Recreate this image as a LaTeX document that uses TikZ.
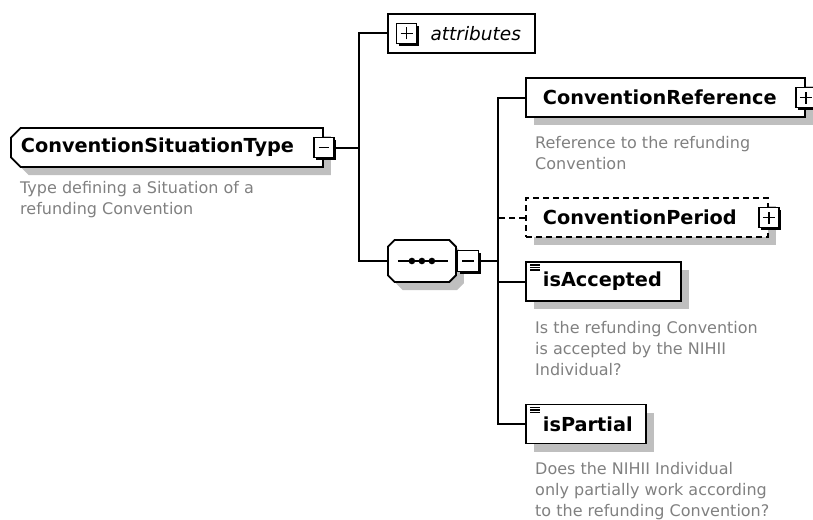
\documentclass[tikz,border=0pt]{standalone}
\usepackage{fontspec}
\setmainfont{DejaVu Sans}
\usetikzlibrary{shapes.misc}
\usetikzlibrary{shadows}
\tikzset{
  grey shadow/.style={drop shadow={shadow xshift=8pt,shadow yshift=-8pt,fill=black!25,opacity=1}},
  type node/.style={chamfered rectangle,chamfered rectangle corners={north west,south west},
    chamfered rectangle xsep=6pt,draw,fill=white,line width=1.8pt,anchor=west,align=left,
    minimum height=39pt,inner xsep=4pt,font=\fontsize{19.3}{23}\selectfont\bfseries,grey shadow},
  elem node/.style={rectangle,draw,fill=white,line width=1.8pt,anchor=west,align=left,
    minimum height=39pt,inner xsep=17pt,font=\fontsize{19.3}{23}\selectfont\bfseries,grey shadow},
  seq node/.style={chamfered rectangle,chamfered rectangle xsep=9pt,draw,fill=white,
    line width=1.8pt,anchor=west,minimum width=68pt,minimum height=42pt,grey shadow},
  pm box/.style={rectangle,draw,fill=white,line width=1.6pt,minimum size=20pt,inner sep=0pt,
    drop shadow={shadow xshift=2.2pt,shadow yshift=-2.2pt,fill=black,opacity=1}},
  desc/.style={anchor=north west,inner sep=0pt,align=left,text=black!50,
    font=\fontsize{16}{21}\selectfont},
  wire/.style={line width=2pt},
  optional/.style={dash pattern=on 6pt off 4pt}
}
\begin{document}
\begin{tikzpicture}[x=1pt,y=-1pt]
  \useasboundingbox (0,0) rectangle (813,519);
  % the complex type
  \node [type node,text width=292pt] (cst) at (10,147.5) {ConventionSituationType};
  \node [pm box] (cstm) at (cst.east) {};
  \draw [line width=1.8pt] ([xshift=-5pt]cstm.center) -- ([xshift=5pt]cstm.center);
  \node [desc] (cstd) at (20,181) {Type defining a Situation of a\\refunding Convention};
  \coordinate (b1) at ([xshift=24pt]cstm.east);

  % attributes
  \node [rectangle,draw,fill=white,line width=1.8pt,anchor=west,align=right,minimum height=39pt,
    inner xsep=14pt,text width=119pt,font=\fontsize{18.5}{22}\selectfont\itshape] (attr) at (387,33.5) {attributes};
  \node [pm box] (attrp) at ([xshift=19.5pt]attr.west) {};
  \draw [line width=1.8pt] ([xshift=-6pt]attrp.center) -- ([xshift=6pt]attrp.center)
    ([yshift=-6pt]attrp.center) -- ([yshift=6pt]attrp.center);

  % sequence
  \node [seq node] (seq) at (387,261) {};
  \draw [line width=1.8pt] ([xshift=-24pt]seq.center) -- ([xshift=26pt]seq.center);
  \foreach \d in {-10,0,10}
    \fill ([xshift=\d pt]seq.center) circle (3.3pt);
  \node [pm box,anchor=west,minimum size=21pt] (seqm) at (seq.east) {};
  \draw [line width=1.8pt] ([xshift=-6pt]seqm.center) -- ([xshift=6pt]seqm.center);
  \coordinate (b2) at ([xshift=19pt]seqm.east);

  % elements
  \node [elem node,text width=245pt] (cref) at (525,97.5) {ConventionReference};
  \node [pm box] (crefp) at (cref.east) {};
  \draw [line width=1.8pt] ([xshift=-6pt]crefp.center) -- ([xshift=6pt]crefp.center)
    ([yshift=-6pt]crefp.center) -- ([yshift=6pt]crefp.center);
  \node [desc] (crefd) at (535,136) {Reference to the refunding\\Convention};

  \node [elem node,optional,text width=208pt] (cper) at (525,217.5) {ConventionPeriod};
  \node [pm box] (cperp) at (cper.east) {};
  \draw [line width=1.8pt] ([xshift=-6pt]cperp.center) -- ([xshift=6pt]cperp.center)
    ([yshift=-6pt]cperp.center) -- ([yshift=6pt]cperp.center);

  \node [elem node,text width=121pt] (isacc) at (525,281.5) {isAccepted};
  \foreach \k in {3.8,6.3,8.8}
    \draw [line width=1.3pt] ([xshift=5pt,yshift=-\k pt]isacc.north west) -- ++(10,0);
  \node [desc] (isaccd) at (535,321) {Is the refunding Convention\\is accepted by the NIHII\\Individual?};

  \node [elem node,text width=86pt] (ispart) at (525,424) {isPartial};
  \foreach \k in {3.8,6.3,8.8}
    \draw [line width=1.3pt] ([xshift=5pt,yshift=-\k pt]ispart.north west) -- ++(10,0);
  \node [desc] (ispartd) at (535,462) {Does the NIHII Individual\\only partially work according\\to the refunding Convention?};

  % connectors
  \draw [wire] (cstm) -- (b1);
  \draw [wire] (attr.west) -| (b1);
  \draw [wire] (seq.west) -| (b1);
  \draw [wire] (seqm) -- (b2);
  \draw [wire] (cref.west) -| (b2);
  \draw [wire,optional] (cper.west) -- (cper.west -| b2);
  \draw [wire] (isacc.west) -| (b2);
  \draw [wire] (ispart.west) -| (b2);
\end{tikzpicture}
\end{document}
